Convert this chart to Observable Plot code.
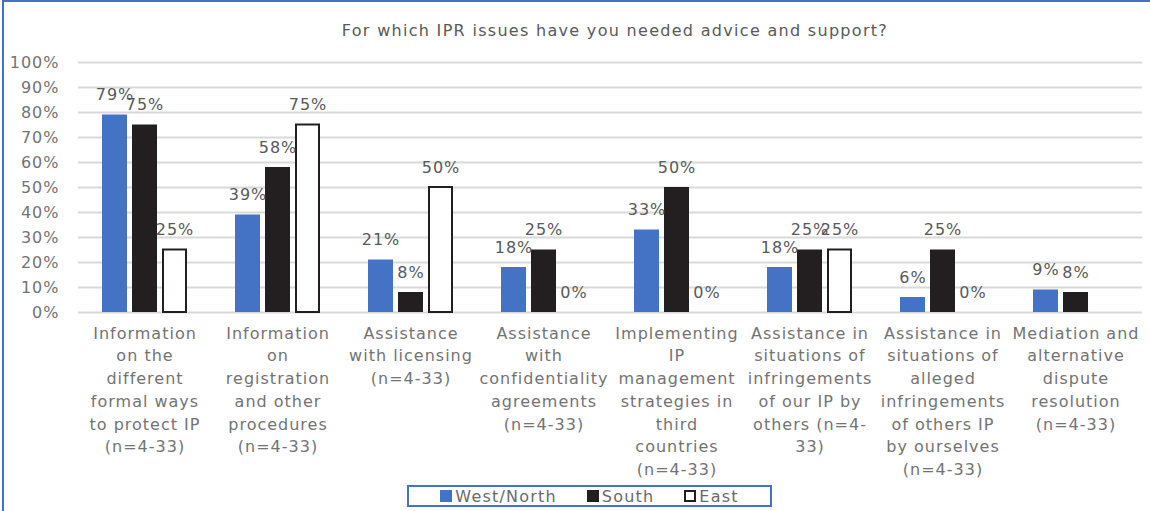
<!DOCTYPE html>
<html>
<head>
<meta charset="utf-8">
<script src="https://cdn.jsdelivr.net/npm/d3@7"></script>
<script src="https://cdn.jsdelivr.net/npm/@observablehq/plot@0.6"></script>
<style>
  html, body { margin: 0; padding: 0; background: #fff; }
  #wrap { position: relative; width: 1150px; height: 511px; overflow: hidden; font-family: "DejaVu Sans", Verdana, sans-serif; color: #595959; }
  #frame { position: absolute; left: 2px; top: 0; width: 1200px; height: 600px; border-left: 2px solid #4472C4; border-top: 2px solid #4472C4; }
  #title { position: absolute; left: 0; width: 1230px; top: 21px; text-align: center; font-size: 16px; letter-spacing: 1.3px; }
  #chart { position: absolute; left: 0; top: 48px; }
  #legend { position: absolute; left: 407px; top: 485px; width: 361px; height: 18px; border: 2px solid #4472C4; display: flex; justify-content: center; align-items: center; gap: 30px; font-size: 16px; letter-spacing: 1.2px; color: #6a6a6a; }
  .item { display: flex; align-items: center; gap: 3px; }
  .sw { width: 12px; height: 12px; box-sizing: border-box; }
</style>
</head>
<body>
<div id="wrap">
  <div id="frame"></div>
  <div id="title">For which IPR issues have you needed advice and support?</div>
  <div id="chart"></div>
  <div id="legend"></div>
</div>
<script>
const categories = [
  "Information on the different formal ways to protect IP (n=4-33)",
  "Information on registration and other procedures (n=4-33)",
  "Assistance with licensing (n=4-33)",
  "Assistance with confidentiality agreements (n=4-33)",
  "Implementing IP management strategies in third countries (n=4-33)",
  "Assistance in situations of infringements of our IP by others (n=4-33)",
  "Assistance in situations of alleged infringements of others IP by ourselves (n=4-33)",
  "Mediation and alternative dispute resolution (n=4-33)"
];
const tickLabels = [
  "Information\non the\ndifferent\nformal ways\nto protect IP\n(n=4-33)",
  "Information\non\nregistration\nand other\nprocedures\n(n=4-33)",
  "Assistance\nwith licensing\n(n=4-33)",
  "Assistance\nwith\nconfidentiality\nagreements\n(n=4-33)",
  "Implementing\nIP\nmanagement\nstrategies in\nthird\ncountries\n(n=4-33)",
  "Assistance in\nsituations of\ninfringements\nof our IP by\nothers (n=4-\n33)",
  "Assistance in\nsituations of\nalleged\ninfringements\nof others IP\nby ourselves\n(n=4-33)",
  "Mediation and\nalternative\ndispute\nresolution\n(n=4-33)"
];
const series = ["West/North", "South", "East"];
const westNorth = [0.79, 0.39, 0.21, 0.18, 0.33, 0.18, 0.06, 0.09];
const south     = [0.75, 0.58, 0.08, 0.25, 0.50, 0.25, 0.25, 0.08];
const east      = [0.25, 0.75, 0.50, 0.00, 0.00, 0.25, 0.00, null];
const yTicks = [0, 0.1, 0.2, 0.3, 0.4, 0.5, 0.6, 0.7, 0.8, 0.9, 1.0];
const seriesColors = ["#4472C4", "#231F20", "#FFFFFF"];

const values = [westNorth, south, east];
const rows = categories.flatMap((c, i) =>
  series.map((s, j) => ({category: c, series: s, value: values[j][i]}))
).filter(d => d.value != null);

const chart = Plot.plot({
  width: 1150,
  height: 440,
  marginTop: 14,
  marginBottom: 176,
  marginLeft: 78,
  marginRight: 8,
  style: {fontFamily: "DejaVu Sans, Verdana, sans-serif", fontSize: "16px", color: "#595959", letterSpacing: "1px", background: "transparent"},
  fx: {domain: categories, padding: 0, label: null, axis: null},
  x: {domain: series, paddingInner: 0.17, paddingOuter: 0.78, axis: null},
  y: {domain: [0, 1], axis: null},
  color: {domain: series, range: seriesColors},
  marks: [
    Plot.ruleY(yTicks, {stroke: "#d9d9d9", strokeWidth: 2}),
    Plot.barY(rows.filter(d => d.series !== "East"), {fx: "category", x: "series", y: "value", fill: "series"}),
    Plot.barY(rows.filter(d => d.series === "East"), {fx: "category", x: "series", y: "value", fill: "#FFFFFF", stroke: "#231F20", strokeWidth: 2, insetLeft: 1, insetRight: 1}),
    Plot.text(rows, {fx: "category", x: "series", y: "value", text: d => Math.round(d.value * 100) + "%", dy: -20, fill: "#595959", fontSize: 16}),
    Plot.axisY({ticks: yTicks, tickFormat: d => Math.round(d * 100) + "%", tickSize: 0, tickPadding: 19, label: null, fill: "#737373", fontSize: 16, letterSpacing: "1.4px"}),
    Plot.axisFx({anchor: "bottom", tickFormat: d => tickLabels[categories.indexOf(d)], tickSize: 0, tickPadding: 10, lineHeight: 1.42, label: null, fill: "#737373", fontSize: 16})
  ]
});
document.getElementById("chart").appendChild(chart);

const legend = document.getElementById("legend");
series.forEach((s, i) => {
  const item = document.createElement("div");
  item.className = "item";
  const sw = document.createElement("div");
  sw.className = "sw";
  sw.style.background = seriesColors[i];
  if (s === "East") sw.style.border = "2px solid #231F20";
  const t = document.createElement("span");
  t.textContent = s;
  item.appendChild(sw);
  item.appendChild(t);
  legend.appendChild(item);
});
</script>
</body>
</html>
